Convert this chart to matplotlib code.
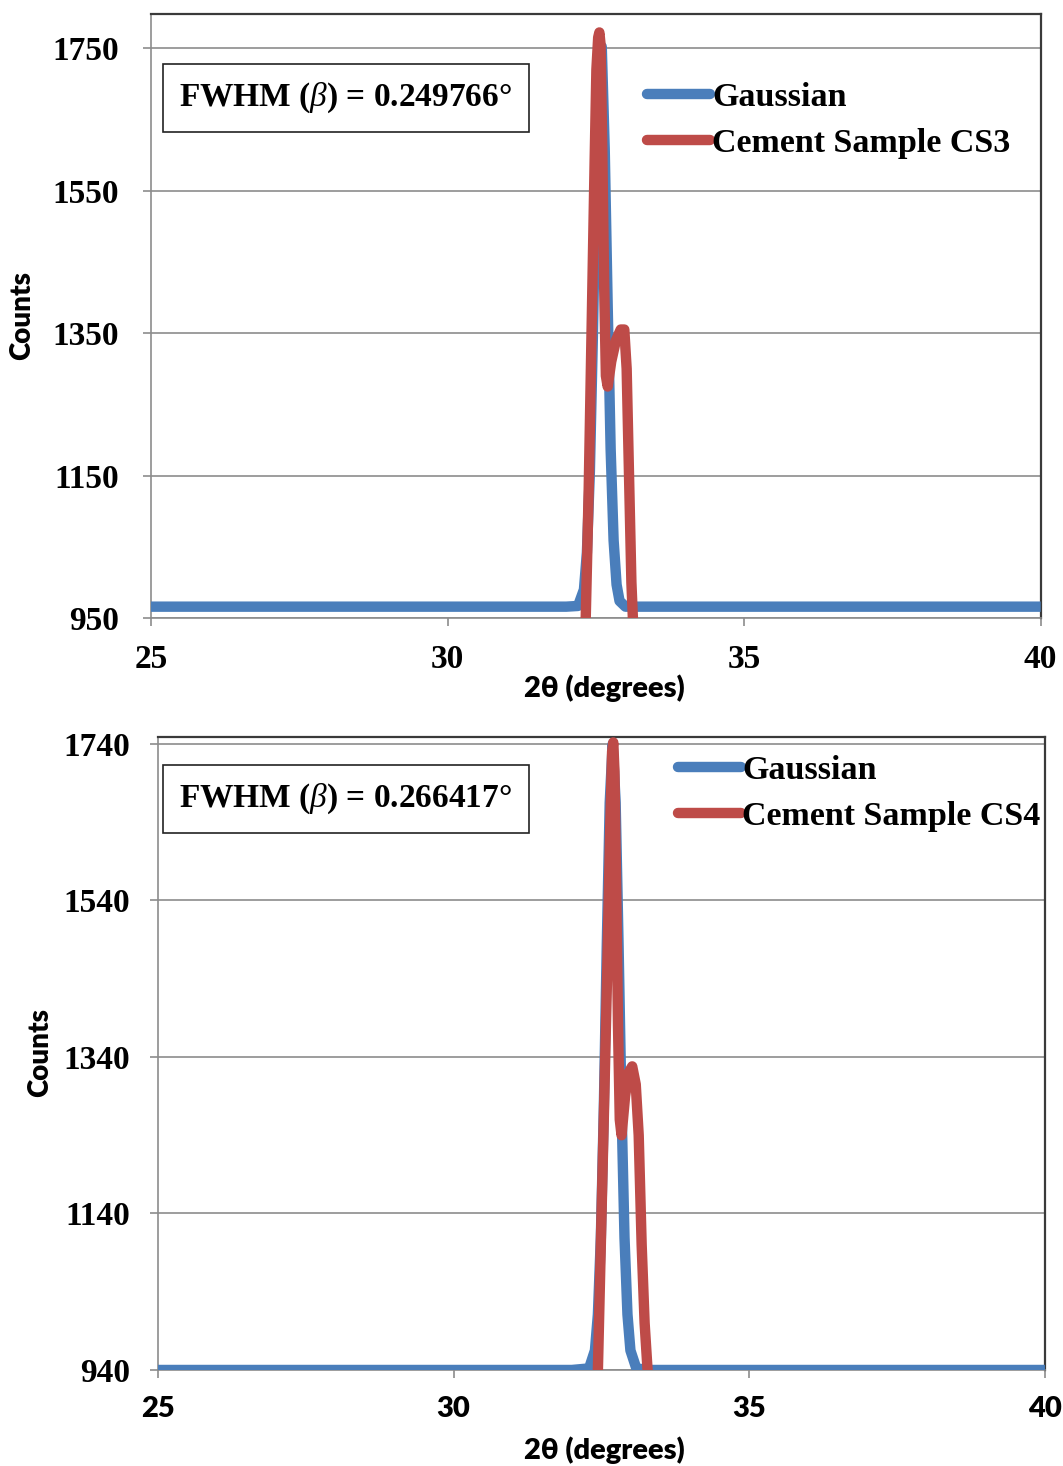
import numpy as np
import matplotlib
matplotlib.use("Agg")
import matplotlib.pyplot as plt

plt.rcParams['mathtext.fontset'] = 'custom'
plt.rcParams['mathtext.it'] = 'Liberation Serif:italic'
plt.rcParams['mathtext.rm'] = 'Liberation Serif:bold'

# --- data ---
# top panel (CS3)
x_gauss_cs3 = [25.0, 32.0, 32.2, 32.3, 32.35, 32.4, 32.45, 32.5, 32.55, 32.6, 32.65,
               32.7, 32.75, 32.8, 32.85, 32.9, 33.0, 33.2, 40.0]
y_gauss_cs3 = [966, 966, 967, 990, 1042, 1156, 1344, 1568, 1734, 1752, 1609,
               1388, 1187, 1059, 997, 974, 966, 966, 966]
x_cs3 = [32.28, 32.33, 32.38, 32.43, 32.48, 32.51, 32.54, 32.56, 32.58, 32.61, 32.64, 32.67,
         32.70, 32.76, 32.84, 32.92, 32.98, 33.02, 33.06, 33.10, 33.13, 33.18]
y_cs3 = [860, 950, 1130, 1360, 1590, 1720, 1765, 1772, 1755, 1600, 1420, 1290,
         1275, 1310, 1340, 1355, 1355, 1300, 1150, 1000, 940, 860]

# bottom panel (CS4)
x_gauss_cs4 = [25.0, 32.0, 32.29, 32.39, 32.44, 32.49, 32.54, 32.59, 32.64, 32.69,
               32.74, 32.79, 32.84, 32.89, 32.94, 32.99, 33.09, 33.3, 40.0]
y_gauss_cs4 = [940, 940, 942, 965, 1011, 1109, 1273, 1481, 1665, 1740,
               1665, 1481, 1273, 1109, 1011, 965, 942, 940, 940]
x_cs4 = [32.40, 32.44, 32.50, 32.55, 32.60, 32.65, 32.68, 32.70, 32.72, 32.75, 32.78, 32.81,
         32.84, 32.90, 32.96, 33.02, 33.08, 33.13, 33.18, 33.23, 33.28, 33.33]
y_cs4 = [870, 940, 1135, 1295, 1460, 1640, 1730, 1742, 1705, 1550, 1380, 1260,
         1240, 1290, 1320, 1328, 1305, 1240, 1100, 1000, 940, 870]

panels = [
    dict(xg=x_gauss_cs3, yg=y_gauss_cs3, xs=x_cs3, ys=y_cs3, name="Cement Sample CS3",
         fwhm="0.249766", yticks=[950, 1150, 1350, 1550, 1750], ylim=(950, 1798),
         pos=[0.142, 0.5784, 0.837, 0.4121], xtick_serif=True, ypad=17,
         leg=(0.558, 0.8235), box=(0.219, 0.861), counts=(0.021, 0.785), xlab=0.5307),
    dict(xg=x_gauss_cs4, yg=y_gauss_cs4, xs=x_cs4, ys=y_cs4, name="Cement Sample CS4",
         fwhm="0.266417", yticks=[940, 1140, 1340, 1540, 1740], ylim=(940, 1749),
         pos=[0.1486, 0.0655, 0.8344, 0.4318], xtick_serif=False, ypad=14,
         leg=(0.586, 0.9105), box=(0.212, 0.902), counts=(0.038, 0.282), xlab=0.0109),
]

blue = '#4A7EBB'
red = '#BE4B48'
grid = '#8C8C8C'
serif = 'Liberation Serif'
sans = 'Lato'

fig = plt.figure(figsize=(10.63, 14.66), dpi=100)

for p in panels:
    ax = fig.add_axes(p['pos'])
    ax.plot(p['xg'], p['yg'], color=blue, lw=7.5, solid_capstyle='butt', label='Gaussian', zorder=3)
    ax.plot(p['xs'], p['ys'], color=red, lw=7.5, solid_capstyle='butt', label=p['name'], zorder=4)
    ax.set_xlim(25, 40)
    ax.set_ylim(*p['ylim'])
    ax.set_xticks([25, 30, 35, 40])
    ax.set_yticks(p['yticks'])
    ax.yaxis.grid(True, color=grid, lw=1.2)
    ax.set_axisbelow(True)
    for s in ['left', 'bottom']:
        ax.spines[s].set_color(grid)
        ax.spines[s].set_linewidth(1.2)
    for s in ['top', 'right']:
        ax.spines[s].set_color('#3A3A3A')
        ax.spines[s].set_linewidth(1.6)
    ax.tick_params(axis='both', direction='out', length=6, width=1.2, color=grid)
    ax.tick_params(axis='y', pad=p['ypad'])
    for t in ax.get_yticklabels():
        t.set_fontfamily(serif)
        t.set_fontweight('bold')
        t.set_fontsize(24)
    for t in ax.get_xticklabels():
        if p['xtick_serif']:
            t.set_fontfamily(serif)
            t.set_fontsize(24)
        else:
            t.set_fontfamily(sans)
            t.set_fontsize(21)
        t.set_fontweight('heavy')
    ax.tick_params(axis='x', pad=13)

    leg = ax.legend(loc='center left', bbox_to_anchor=p['leg'], frameon=False,
                    handlelength=1.85, handletextpad=0.05, borderpad=0, borderaxespad=0,
                    labelspacing=0.45, prop={'family': serif, 'weight': 'bold', 'size': 24.5})
    for h in leg.get_lines():
        h.set_linewidth(7.5)
        h.set_solid_capstyle('round')

    ax.text(p['box'][0], p['box'][1], r'FWHM ($\beta$) = ' + p['fwhm'] + '°',
            transform=ax.transAxes, ha='center', va='center', fontsize=24,
            family=serif, fontweight='bold', zorder=6,
            bbox=dict(boxstyle='square,pad=0.5', fc='white', ec='#222222', lw=1.2))

    fig.text(p['counts'][0], p['counts'][1], 'Counts', rotation=90, ha='center', va='center',
             family=sans, fontweight='heavy', fontsize=20)
    fig.text(0.569, p['xlab'], '2θ (degrees)', ha='center', va='center',
             family=sans, fontweight='heavy', fontsize=21)

fig.savefig('out.png', dpi=100)
